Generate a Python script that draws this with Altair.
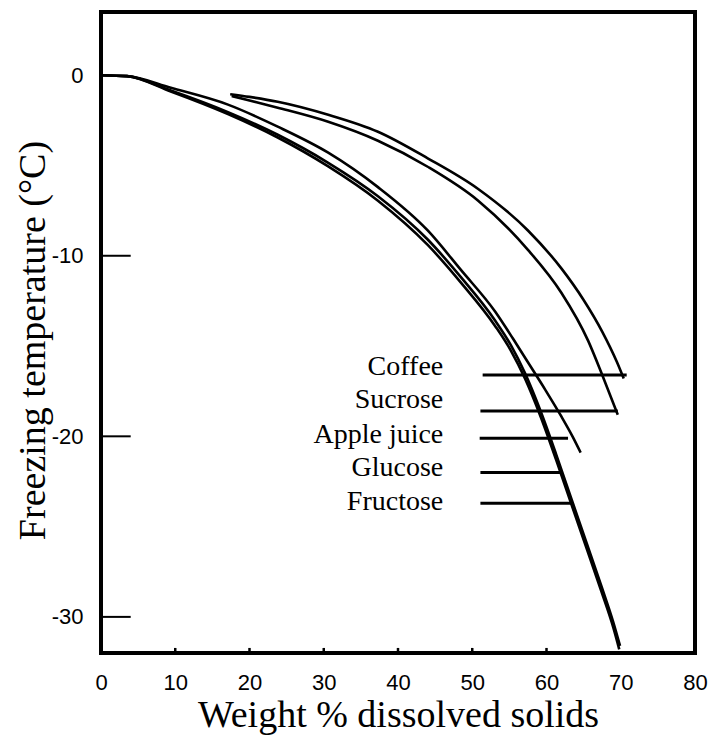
import altair as alt
import pandas as pd

# ---- data ----
coffee_x = [17.4, 20.0, 23.8, 30.6, 37.3, 44.0, 50.8, 57.5, 62.0, 65.0, 67.5, 69.5, 70.4]
coffee_y = [-1.05, -1.2, -1.47, -2.19, -3.13, -4.6, -6.3, -8.6, -10.7, -12.45, -14.2, -15.9, -16.8]

sucrose_x = [17.6, 20.0, 23.8, 30.6, 37.3, 44.0, 50.8, 57.5, 62.0, 65.6, 67.6, 69.6]
sucrose_y = [-1.15, -1.4, -1.8, -2.58, -3.63, -5.07, -6.95, -9.67, -12.05, -14.7, -16.7, -18.8]

apple_x = [0, 3.5, 9.4, 17.1, 23.8, 30.6, 37.3, 44.0, 48.5, 53.1, 55.5, 57.5, 59.8, 62.0, 63.5, 64.6]
apple_y = [0, -0.05, -0.7, -1.63, -2.85, -4.29, -6.2, -8.6, -10.8, -13.1, -14.6, -15.9, -17.4, -18.9, -20.0, -20.9]

glucose_x = [0, 3.5, 9.4, 17.1, 23.8, 30.6, 37.3, 44.0, 48.5, 53.1, 55.2, 57.1, 59.2, 61.3, 63.3, 65.4, 67.4, 69.0, 69.9]
glucose_y = [0, -0.05, -0.85, -2.05, -3.3, -4.85, -6.7, -9.1, -11.2, -13.6, -14.95, -16.5, -18.6, -21.0, -23.4, -25.9, -28.3, -30.3, -31.6]

fructose_x = [0, 3.5, 9.4, 17.1, 23.8, 30.6, 37.3, 44.0, 48.5, 53.1, 55.2, 57.1, 59.2, 61.3, 63.3, 65.4, 67.4, 69.0, 69.8]
fructose_y = [0, -0.05, -0.9, -2.15, -3.45, -5.05, -6.95, -9.4, -11.5, -13.9, -15.25, -16.8, -18.9, -21.3, -23.7, -26.2, -28.6, -30.6, -31.8]

label_names = ["Coffee", "Sucrose", "Apple juice", "Glucose", "Fructose"]
label_text_x = [46.1, 46.1, 46.1, 46.1, 46.1]
label_text_y = [-16.15, -17.98, -19.92, -21.74, -23.63]
label_line_y = [-16.6, -18.6, -20.1, -22.0, -23.7]
label_line_x1 = [51.4, 51.1, 51.0, 51.1, 51.1]
label_line_x2 = [70.8, 69.6, 62.9, 61.9, 63.3]

x_tick_values = [0, 10, 20, 30, 40, 50, 60, 70, 80]
y_tick_values = [0, -10, -20, -30]
inner_y_ticks = [-10, -20, -30]
inner_x_ticks = [10, 20, 30, 40, 50, 60]

# ---- tables ----
rows = []
for name, xs, ys in [("Coffee", coffee_x, coffee_y), ("Sucrose", sucrose_x, sucrose_y),
                     ("Apple juice", apple_x, apple_y), ("Glucose", glucose_x, glucose_y),
                     ("Fructose", fructose_x, fructose_y)]:
    for i, (a, b) in enumerate(zip(xs, ys)):
        rows.append({"series": name, "x": a, "y": b, "order": i})
curves = pd.DataFrame(rows)

labels = pd.DataFrame({"name": label_names, "x": label_text_x, "y": label_text_y})
leaders = pd.DataFrame({"x": label_line_x1, "x2": label_line_x2, "y": label_line_y})
yticks = pd.DataFrame({"x": [0] * len(inner_y_ticks), "x2": [4.0] * len(inner_y_ticks), "y": inner_y_ticks})
xticks = pd.DataFrame({"x": inner_x_ticks, "y": [-32] * len(inner_x_ticks), "y2": [-31.72] * len(inner_x_ticks)})

xscale = alt.Scale(domain=[0, 80], nice=False, zero=False)
yscale = alt.Scale(domain=[-32, 3.5], nice=False, zero=False)

hyphen_label = "(datum.value < 0 ? '-' : '') + abs(datum.value)"

x_axis = alt.Axis(values=x_tick_values, title="Weight % dissolved solids", domain=False, ticks=False,
                  tickSize=0, grid=False, labelFont="Liberation Sans", labelFontSize=22,
                  labelBaseline="middle", labelPadding=29, labelFlush=False, labelColor="black",
                  titleFont="Liberation Serif", titleFontSize=38, titleFontWeight="normal",
                  titleColor="black", titleY=62, titleBaseline="middle")
y_axis = alt.Axis(values=y_tick_values, title="Freezing temperature (°C)", domain=False, ticks=False,
                  tickSize=0, grid=False, labelFont="Liberation Sans", labelFontSize=22,
                  labelBaseline="middle", labelAlign="right", labelPadding=18, labelColor="black",
                  labelExpr=hyphen_label,
                  titleFont="Liberation Serif", titleFontSize=38, titleFontWeight="normal",
                  titleColor="black", titleAngle=270, titleX=-68, titleY=328,
                  titleBaseline="middle", titleAlign="center")


def X(field="x"):
    return alt.X(f"{field}:Q", scale=xscale, axis=x_axis)


def Y(field="y"):
    return alt.Y(f"{field}:Q", scale=yscale, axis=y_axis)


lines = alt.Chart(curves).mark_line(color="black", strokeWidth=2.6, interpolate="monotone").encode(
    x=X(), y=Y(), detail="series:N", order="order:Q")

leader_rules = alt.Chart(leaders).mark_rule(color="black", strokeWidth=3).encode(
    x=X(), x2="x2:Q", y=Y())

text = alt.Chart(labels).mark_text(align="right", baseline="middle", font="Liberation Serif",
                                   fontSize=28, color="black").encode(x=X(), y=Y(), text="name:N")

ytick_rules = alt.Chart(yticks).mark_rule(color="black", strokeWidth=2).encode(x=X(), x2="x2:Q", y=Y())
xtick_rules = alt.Chart(xticks).mark_rule(color="black", strokeWidth=2.5).encode(x=X(), y=Y(), y2="y2:Q")

chart = alt.layer(lines, leader_rules, text, ytick_rules, xtick_rules).properties(
    width=594, height=641,
    autosize=alt.AutoSizeParams(type="none"),
    padding={"left": 93, "top": 4, "right": 13, "bottom": 82},
    background="white",
).configure_view(stroke="black", strokeWidth=4)

chart.save("out.html", embed_options={"renderer": "svg", "actions": False})
